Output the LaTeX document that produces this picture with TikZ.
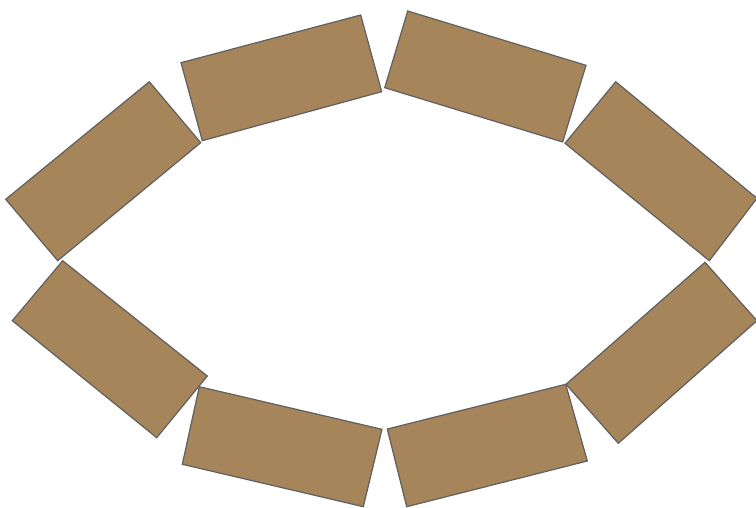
\documentclass[tikz,border=0pt]{standalone}
\definecolor{brickfill}{RGB}{165,133,89}
\definecolor{brickline}{RGB}{96,96,96}
\begin{document}
\begin{tikzpicture}[x=1pt,y=-1pt,
  brick/.style={fill=brickfill,draw=brickline,line width=1.2pt,line join=miter}]
\useasboundingbox (0,0) rectangle (756,508);
\draw[brick] (5.7,199.3) -- (149.3,81.7) -- (200.7,142.7) -- (57.7,260.7) -- cycle;
\draw[brick] (181,62.7) -- (360.7,15) -- (381.7,91.7) -- (202.3,140.7) -- cycle;
\draw[brick] (407.7,11) -- (586,65.3) -- (562.7,142) -- (384.7,87.7) -- cycle;
\draw[brick] (615.7,81.7) -- (757,198.3) -- (709.3,260.7) -- (565,143.3) -- cycle;
\draw[brick] (62.7,260.7) -- (207.3,376) -- (156.7,437.7) -- (12.3,320.7) -- cycle;
\draw[brick] (199.3,386.7) -- (382,429.3) -- (363.3,506.7) -- (182.3,464.3) -- cycle;
\draw[brick] (387.3,429) -- (565.7,384.3) -- (587.3,461) -- (406.7,506.7) -- cycle;
\draw[brick] (566,384.3) -- (705,262.3) -- (757,320.7) -- (618.3,443.3) -- cycle;
\end{tikzpicture}
\end{document}
